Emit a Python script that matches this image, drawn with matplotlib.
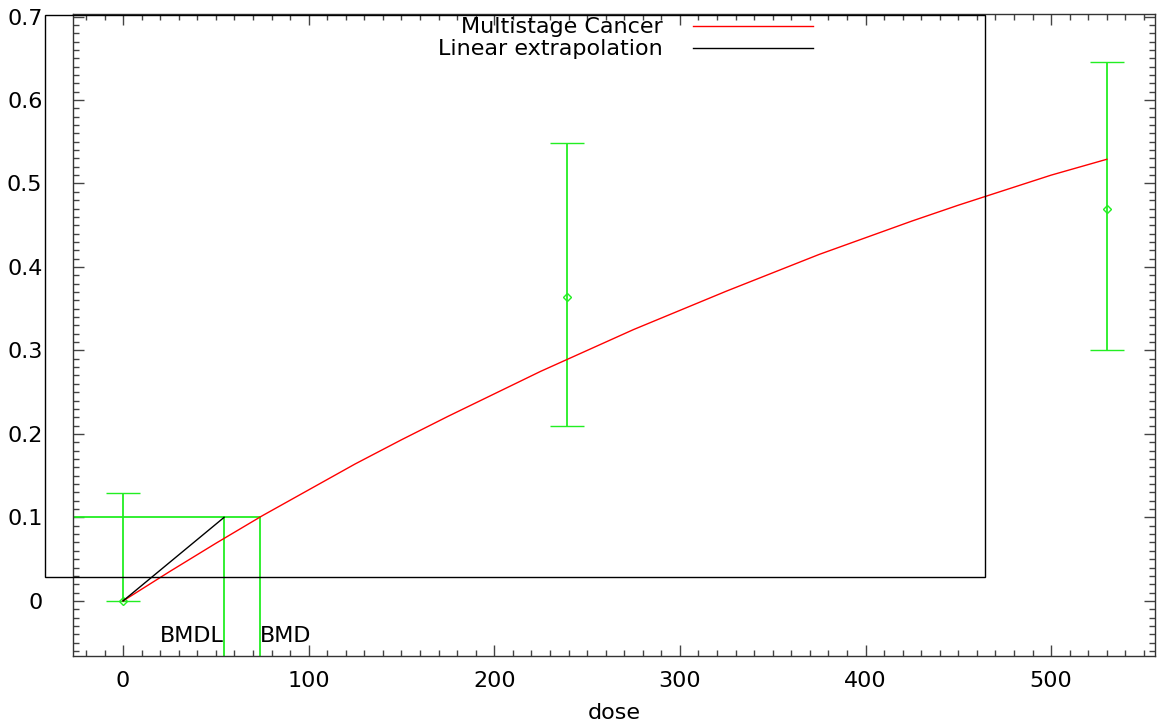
import matplotlib
matplotlib.use("Agg")
import matplotlib.pyplot as plt
from matplotlib.ticker import MultipleLocator, FuncFormatter
from matplotlib.patches import Rectangle

plt.rcParams['font.family'] = ['DejaVu Sans']

# Observed data with confidence limits
dose = [0, 239, 530]
resp = [0.0, 0.364, 0.470]
lower = [0.0, 0.209, 0.301]
upper = [0.129, 0.548, 0.646]

# Fitted multistage cancer model
model_dose = [0, 25, 50, 75, 100, 125, 150, 175, 200, 225, 250, 275, 300,
              325, 350, 375, 400, 425, 450, 475, 500, 530]
model_resp = [0.0, 0.035, 0.069, 0.102, 0.133, 0.164, 0.193, 0.221, 0.248, 0.275, 0.300, 0.325, 0.348,
              0.371, 0.393, 0.415, 0.435, 0.455, 0.474, 0.492, 0.510, 0.529]

bmr = 0.1
bmd = 73.8
bmdl = 54.4

FS = 16

fig = plt.figure(figsize=(11.58, 7.22), dpi=100)
ax = fig.add_axes([0.063, 0.092, 0.9345, 0.8886])
ax.set_xlim(-27, 556)
ax.set_ylim(-0.0655, 0.703)

green = '#22ee22'
# error bars
yerr_lo = [max(r - l, 0) for r, l in zip(resp, lower)]
yerr_hi = [u - r for r, u in zip(resp, upper)]
ax.errorbar(dose, resp, yerr=[yerr_lo, yerr_hi],
            fmt='D', mfc='none', mec=green, ms=4.5, mew=1.0, ecolor=green, elinewidth=1.3,
            capsize=12.5, capthick=1.3, zorder=3)

ax.plot(model_dose, model_resp, color='red', lw=1.0, zorder=4)
ax.plot([0, bmdl], [0, bmr], color='black', lw=1.0, zorder=4)

# BMD / BMDL markers
ax.plot([-27, bmd], [bmr, bmr], color=green, lw=1.3, zorder=2)
ax.plot([bmdl, bmdl], [bmr, -0.0655], color=green, lw=1.3, zorder=2)
ax.plot([bmd, bmd], [bmr, -0.0655], color=green, lw=1.3, zorder=2)
ax.text(bmdl, -0.042, 'BMDL', ha='right', va='center', fontsize=FS)
ax.text(bmd, -0.042, 'BMD', ha='left', va='center', fontsize=FS)

# ticks
ax.xaxis.set_major_locator(MultipleLocator(100))
ax.xaxis.set_minor_locator(MultipleLocator(10))
ax.yaxis.set_major_locator(MultipleLocator(0.1))
ax.yaxis.set_minor_locator(MultipleLocator(0.01))
ax.yaxis.set_major_formatter(FuncFormatter(lambda v, p: '0' if abs(v) < 1e-9 else f'{v:.1f}'))
ax.tick_params(which='both', direction='in', top=True, right=True, labelsize=FS, color='#444444')
ax.tick_params(which='major', length=8, width=1.0)
ax.tick_params(which='minor', length=4, width=1.0)
ax.tick_params(axis='x', pad=11)
ax.tick_params(axis='y', pad=22)
for s in ax.spines.values():
    s.set_linewidth(1.0)
    s.set_color('#333333')
ax.set_xlabel('dose', fontsize=FS, labelpad=9)

# legend frame (drawn as in the original, extending beyond the axes)
fig.patches.append(Rectangle((45 / 1158, 1 - 577 / 722), (985 - 45) / 1158, (577 - 15) / 722,
                             transform=fig.transFigure, fill=False, ec='black', lw=1.0, zorder=5))
fig.text(663 / 1158, 1 - 27 / 722, 'Multistage Cancer', ha='right', va='center', fontsize=FS)
fig.text(663 / 1158, 1 - 49 / 722, 'Linear extrapolation', ha='right', va='center', fontsize=FS)
fig.add_artist(plt.Line2D([693 / 1158, 813 / 1158], [1 - 26 / 722] * 2, color='red', lw=1.0, transform=fig.transFigure))
fig.add_artist(plt.Line2D([693 / 1158, 813 / 1158], [1 - 48 / 722] * 2, color='black', lw=1.0, transform=fig.transFigure))

fig.savefig('out.png', dpi=100)
